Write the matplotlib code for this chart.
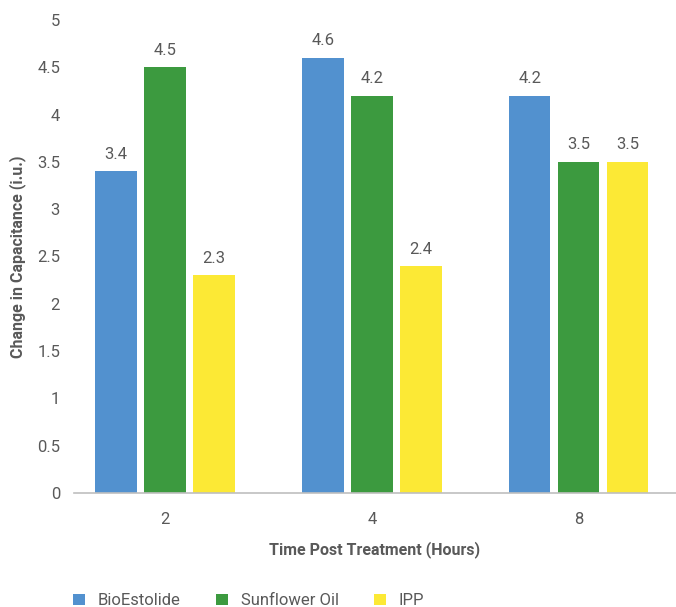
import numpy as np
import matplotlib
matplotlib.use('Agg')
import matplotlib.pyplot as plt

# data
hours = ['2', '4', '8']
series = ['BioEstolide', 'Sunflower Oil', 'IPP']
bioestolide = [3.4, 4.6, 4.2]
sunflower = [4.5, 4.2, 3.5]
ipp = [2.3, 2.4, 3.5]
colors = ['#5291CF', '#3C9A3F', '#FCE935']

plt.rcParams['font.family'] = ['Roboto', 'DejaVu Sans']
text_col = '#595959'

fig = plt.figure(figsize=(6.76, 6.07), dpi=100)
W, H = 676, 607
ax = fig.add_axes([74 / W, 1 - 493 / H, (676 - 74) / W, (493 - 20) / H])

x = np.arange(len(hours))
width = 0.2
step = 0.237
for i, (vals, name) in enumerate(zip([bioestolide, sunflower, ipp], series)):
    bars = ax.bar(x + (i - 1) * step, vals, width, color=colors[i], label=name)
    for b, v in zip(bars, vals):
        ax.text(b.get_x() + b.get_width() / 2, v + 0.1, f'{v:g}', ha='center', va='bottom',
                fontsize=12, color=text_col)

ax.set_xlim(-0.44, 2.47)
ax.set_ylim(0, 5)
ax.set_yticks(np.arange(0, 5.01, 0.5))
ax.set_yticklabels([f'{t:g}' for t in np.arange(0, 5.01, 0.5)])
ax.set_xticks(x)
ax.set_xticklabels(hours)
ax.tick_params(length=0, labelsize=12, colors=text_col)
ax.tick_params(axis='x', pad=14)
ax.tick_params(axis='y', pad=10)
for s in ['top', 'right', 'left']:
    ax.spines[s].set_visible(False)
ax.spines['bottom'].set_color('#BFBFBF')
ax.spines['bottom'].set_linewidth(1.2)

ax.set_xlabel('Time Post Treatment (Hours)', fontsize=11.5, fontweight='bold', color=text_col, labelpad=10)
ax.set_ylabel('Change in Capacitance (i.u.)', fontsize=11.5, fontweight='bold', color=text_col, labelpad=8)

fig.legend(loc='lower left', bbox_to_anchor=(58 / W, -0.027), ncol=3, frameon=False, fontsize=12,
           handlelength=0.7, handleheight=0.7, handletextpad=0.8, columnspacing=2.1,
           labelcolor=text_col)

fig.savefig('out.png', dpi=100)
